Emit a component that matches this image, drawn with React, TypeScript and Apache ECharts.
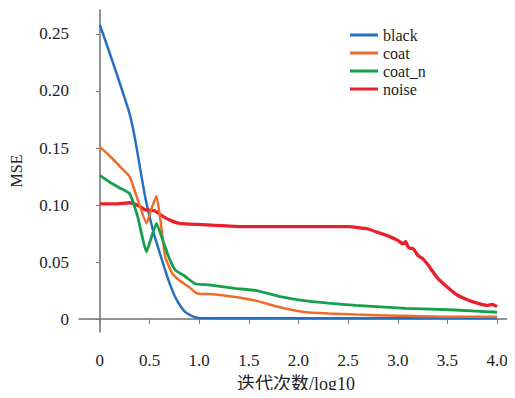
import React, { useEffect, useRef } from "react";
import * as echarts from "echarts";

const seriesNames = ["black", "coat", "coat_n", "noise"];
const colors = ["#2470c0", "#f06a2a", "#14a04c", "#e8202a"];

const xBlack = [0, 0.1, 0.2, 0.3, 0.35, 0.4, 0.45, 0.5, 0.55, 0.6, 0.65, 0.7, 0.75, 0.8, 0.85, 0.9, 0.95, 1.0, 1.5, 2.0, 2.5, 3.0, 3.5, 4.0];
const yBlack = [0.258, 0.233, 0.207, 0.18, 0.16, 0.135, 0.11, 0.09, 0.073, 0.059, 0.045, 0.032, 0.021, 0.013, 0.007, 0.004, 0.002, 0.001, 0.0008, 0.0008, 0.0008, 0.0008, 0.0008, 0.0008];

const xCoat = [0, 0.1, 0.2, 0.3, 0.38, 0.47, 0.52, 0.57, 0.62, 0.66, 0.73, 0.8, 0.9, 0.97, 1.03, 1.1, 1.23, 1.4, 1.58, 1.7, 1.88, 2.08, 2.3, 2.58, 3.0, 3.5, 4.0];
const yCoat = [0.151, 0.143, 0.134, 0.125, 0.105, 0.084, 0.097, 0.108, 0.08, 0.054, 0.04, 0.034, 0.028, 0.023, 0.022, 0.022, 0.021, 0.019, 0.016, 0.013, 0.009, 0.006, 0.005, 0.004, 0.003, 0.002, 0.002];

const xCoatN = [0, 0.1, 0.2, 0.3, 0.38, 0.47, 0.52, 0.57, 0.63, 0.7, 0.76, 0.85, 0.96, 1.1, 1.36, 1.58, 1.8, 2.08, 2.3, 2.58, 3.08, 3.58, 4.0];
const yCoatN = [0.126, 0.12, 0.115, 0.11, 0.09, 0.059, 0.072, 0.084, 0.07, 0.053, 0.043, 0.038, 0.031, 0.03, 0.027, 0.025, 0.02, 0.016, 0.014, 0.012, 0.0095, 0.008, 0.006];

const xNoise = [0, 0.15, 0.3, 0.4, 0.45, 0.55, 0.62, 0.7, 0.8, 1.0, 1.5, 2.0, 2.5, 2.7, 2.8, 2.9, 3.0, 3.05, 3.08, 3.1, 3.12, 3.15, 3.2, 3.25, 3.3, 3.4, 3.5, 3.6, 3.7, 3.8, 3.9, 3.95, 4.0];
const yNoise = [0.101, 0.101, 0.102, 0.099, 0.096, 0.095, 0.091, 0.087, 0.084, 0.083, 0.081, 0.081, 0.081, 0.079, 0.076, 0.073, 0.069, 0.066, 0.068, 0.064, 0.062, 0.062, 0.056, 0.053, 0.048, 0.036, 0.028, 0.021, 0.017, 0.014, 0.012, 0.013, 0.011];

const yTicks = [0, 0.05, 0.1, 0.15, 0.2, 0.25];
const xTicks = [0, 0.5, 1.0, 1.5, 2.0, 2.5, 3.0, 3.5, 4.0];

const xs = [xBlack, xCoat, xCoatN, xNoise];
const ys = [yBlack, yCoat, yCoatN, yNoise];
const widths = [2.5, 2.5, 2.8, 3.3];

const FONT = "Liberation Serif";
const FONT_CN = "Liberation Serif, Noto Sans CJK SC";

export default function App() {
  const ref = useRef<HTMLDivElement>(null);
  useEffect(() => {
    const chart = echarts.init(ref.current!, null, { renderer: "svg" });
    const axisStyle = { lineStyle: { color: "#6f6f6f", width: 1.5 } };
    chart.setOption({
      animation: false,
      backgroundColor: "#ffffff",
      textStyle: { fontFamily: FONT },
      grid: { left: 76, right: 2, top: 10, bottom: 63, containLabel: false },
      legend: {
        orient: "vertical",
        left: 345,
        top: 22,
        icon: "rect",
        itemWidth: 28,
        itemHeight: 3,
        itemGap: 2,
        textStyle: { fontFamily: FONT, fontSize: 16, color: "#222" },
        data: seriesNames,
      },
      xAxis: {
        type: "value",
        min: -0.21,
        max: 4.16,
        name: "迭代次数/log10",
        nameLocation: "middle",
        nameGap: 43,
        nameTextStyle: { fontFamily: FONT_CN, fontSize: 18, color: "#222" },
        axisLine: { show: true, ...axisStyle },
        axisTick: { show: true, length: 5, lineStyle: { color: "#7a7a7a" }, customValues: xTicks },
        axisLabel: {
          customValues: xTicks,
          margin: 20,
          fontFamily: FONT,
          fontSize: 17,
          color: "#222",
          formatter: (v: number) => (v === 0 ? "0" : v.toFixed(1)),
        },
        splitLine: { show: false },
      },
      yAxis: {
        type: "value",
        min: -0.0113,
        max: 0.271,
        name: "MSE",
        nameLocation: "middle",
        nameGap: 55,
        nameRotate: 90,
        nameTextStyle: { fontFamily: FONT, fontSize: 16, color: "#222" },
        axisLine: { show: true, ...axisStyle },
        axisTick: { show: true, length: 4, lineStyle: { color: "#7a7a7a" }, customValues: yTicks },
        axisLabel: {
          customValues: yTicks,
          margin: 10,
          fontFamily: FONT,
          fontSize: 17,
          color: "#222",
          formatter: (v: number) => (v === 0 ? "0" : v.toFixed(2)),
        },
        splitLine: { show: false },
      },
      series: seriesNames.map((name, i) => ({
        name,
        type: "line",
        showSymbol: false,
        symbol: "none",
        smooth: 0.15,
        color: colors[i],
        lineStyle: { color: colors[i], width: widths[i] },
        data: xs[i].map((x, j) => [x, ys[i][j]]),
        z: 2 + (i === 3 ? 0 : i),
      })),
    });
    return () => chart.dispose();
  }, []);
  return <div ref={ref} style={{ width: 515, height: 398, margin: -8 }} />;
}
